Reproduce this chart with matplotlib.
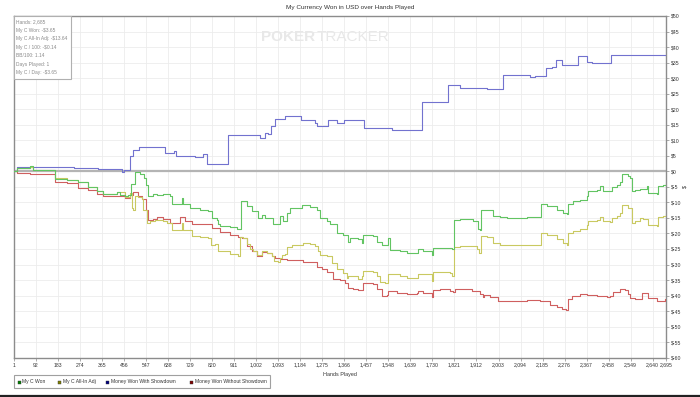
import matplotlib
matplotlib.use("Agg")
import matplotlib.pyplot as plt
from matplotlib.patches import Rectangle
from matplotlib.lines import Line2D

plt.rcParams['font.family'] = ['Liberation Sans', 'DejaVu Sans']

title = "My Currency Won in USD over Hands Played"
xlabel = "Hands Played"
series_names = ["My C Won", "My C All-In Adj", "Money Won With Showdown", "Money Won Without Showdown"]
stats_lines = ["Hands: 2,685", "My C Won: -$3.65", "My C All-In Adj: -$13.64", "My C / 100: -$0.14",
               "BB/100: 1.14", "Days Played: 1", "My C / Day: -$3.65"]

x_ticks = list(range(1, 2641, 91)) + [2695]
y_ticks = list(range(-60, 51, 5))

showdown_hands = [1, 13, 120, 250, 350, 447, 455, 480, 493, 518, 625, 662, 670, 749, 782, 798, 885, 1018,
                  1038, 1050, 1063, 1079, 1121, 1187, 1245, 1253, 1299, 1336, 1365, 1447, 1563, 1687, 1794,
                  1844, 1955, 2022, 2133, 2154, 2199, 2224, 2241, 2265, 2331, 2369, 2389, 2468, 2695]
showdown_vals = [0, 1.4, 1.3, 1.0, 0.8, -0.3, 0.3, 4.8, 7.0, 7.8, 5.9, 6.4, 4.8, 4.5, 5.6, 2.4, 11.6, 10.7,
                 12.3, 12.0, 14.7, 16.8, 17.7, 16.6, 15.6, 14.7, 16.6, 15.6, 16.4, 13.9, 13.3, 22.2, 27.7,
                 26.9, 26.6, 31.1, 30.4, 30.8, 33.2, 33.6, 35.7, 34.3, 37.0, 35.2, 34.8, 37.4, 37.4]

won_hands = [1, 13, 67, 80, 170, 220, 265, 307, 344, 369, 427, 439, 460, 472, 484, 501, 522, 538, 546, 555,
             575, 592, 617, 646, 654, 695, 699, 728, 770, 803, 819, 840, 844, 852, 893, 922, 939, 947, 964,
             984, 1009, 1026, 1038, 1071, 1092, 1100, 1112, 1129, 1141, 1191, 1224, 1253, 1265, 1294, 1307,
             1336, 1360, 1381, 1389, 1422, 1439, 1443, 1484, 1501, 1521, 1542, 1546, 1555, 1596, 1625, 1670,
             1691, 1728, 1732, 1802, 1811, 1819, 1844, 1873, 1897, 1918, 1926, 1930, 1955, 1980, 2009, 2038,
             2121, 2174, 2178, 2203, 2245, 2269, 2286, 2290, 2311, 2340, 2368, 2372, 2410, 2422, 2435, 2463,
             2472, 2492, 2505, 2513, 2538, 2546, 2554, 2567, 2587, 2616, 2620, 2658, 2662, 2682, 2695]
won_vals = [0, 1.1, 1.7, 0.5, -2.5, -2.8, -3.5, -5.0, -6.4, -7.2, -6.8, -7.5, -8.0, -7.5, -4.0, -0.3, -1.0,
            -2.0, -4.3, -8.0, -7.2, -7.6, -7.2, -8.0, -10.4, -8.6, -10.4, -11.8, -12.3, -12.8, -15.0, -15.6,
            -17.1, -17.5, -17.9, -18.5, -9.4, -9.6, -11.3, -12.9, -15.0, -14.0, -15.0, -17.1, -16.9, -14.5,
            -16.0, -13.3, -11.8, -11.0, -11.4, -12.5, -15.0, -16.0, -17.1, -19.8, -20.6, -22.8, -21.5, -21.8,
            -23.0, -20.4, -20.7, -22.8, -23.8, -23.6, -21.5, -25.2, -25.7, -26.3, -25.0, -25.5, -26.9, -24.6,
            -24.8, -25.0, -15.7, -15.5, -15.3, -16.1, -18.6, -18.9, -12.3, -12.5, -14.3, -14.7, -15.0, -14.7,
            -14.7, -10.4, -11.3, -12.3, -13.4, -13.6, -10.4, -9.6, -9.3, -8.0, -6.4, -5.9, -4.6, -6.2, -6.4,
            -5.0, -4.5, -3.4, -0.8, -1.5, -2.0, -6.4, -5.9, -5.7, -4.7, -6.9, -7.2, -4.6, -4.3, -4.0]

adj_hands = [1, 13, 67, 80, 170, 220, 265, 307, 344, 369, 427, 460, 480, 489, 493, 501, 513, 530, 534, 551,
             563, 584, 617, 633, 654, 695, 699, 736, 770, 803, 815, 832, 844, 893, 927, 935, 947, 964, 976,
             988, 1005, 1026, 1046, 1067, 1075, 1092, 1100, 1108, 1121, 1129, 1150, 1195, 1224, 1245, 1257,
             1265, 1294, 1315, 1336, 1360, 1377, 1381, 1410, 1422, 1439, 1443, 1484, 1501, 1513, 1534, 1546,
             1596, 1625, 1666, 1670, 1707, 1728, 1732, 1802, 1811, 1819, 1844, 1885, 1914, 1922, 1930, 1955,
             1980, 2009, 2038, 2121, 2174, 2178, 2203, 2245, 2269, 2286, 2290, 2311, 2340, 2368, 2372, 2410,
             2422, 2435, 2463, 2472, 2492, 2505, 2513, 2538, 2554, 2567, 2587, 2600, 2620, 2658, 2662, 2682,
             2695]
adj_vals = [0, 1.1, 1.5, 0.5, -2.3, -2.8, -3.5, -5.0, -6.4, -7.2, -6.8, -8.3, -7.0, -11.8, -12.3, -7.9,
            -8.4, -9.0, -12.3, -16.6, -16.1, -15.6, -16.0, -16.6, -19.0, -16.6, -18.8, -20.7, -21.1, -21.6,
            -23.6, -23.3, -25.7, -26.5, -27.2, -21.1, -21.4, -23.5, -25.0, -25.8, -26.9, -25.8, -26.4, -27.4,
            -28.9, -29.2, -27.8, -27.0, -26.5, -24.4, -23.6, -23.1, -23.3, -24.1, -25.7, -26.9, -27.2, -29.5,
            -31.6, -32.7, -34.3, -33.8, -33.8, -34.8, -33.8, -32.2, -32.5, -33.8, -35.6, -35.9, -33.0, -33.6,
            -34.5, -34.5, -32.9, -33.2, -35.3, -32.5, -32.8, -33.6, -24.3, -24.1, -24.1, -25.0, -26.3, -20.9,
            -21.1, -23.0, -23.6, -23.8, -23.6, -23.6, -20.0, -20.6, -21.9, -23.1, -23.6, -19.8, -19.3, -18.7,
            -17.3, -16.1, -15.6, -14.6, -16.0, -16.3, -14.9, -14.4, -13.4, -11.0, -11.8, -16.6, -16.1, -15.1,
            -15.5, -17.3, -17.6, -14.7, -14.3, -13.9]

noshow_hands = [1, 13, 67, 170, 220, 265, 307, 344, 369, 460, 480, 493, 513, 530, 546, 555, 575, 592, 617,
                646, 687, 708, 736, 770, 803, 819, 852, 893, 927, 943, 964, 984, 1005, 1026, 1046, 1067, 1079,
                1100, 1129, 1154, 1195, 1224, 1253, 1274, 1294, 1319, 1348, 1369, 1381, 1402, 1422, 1439, 1443,
                1484, 1501, 1521, 1542, 1546, 1583, 1625, 1666, 1670, 1691, 1728, 1732, 1761, 1802, 1815, 1823,
                1873, 1893, 1926, 1938, 1942, 1968, 2001, 2079, 2121, 2174, 2216, 2245, 2265, 2282, 2290, 2306,
                2340, 2368, 2410, 2451, 2463, 2476, 2505, 2525, 2538, 2546, 2567, 2596, 2616, 2620, 2658, 2682,
                2691, 2695]
noshow_vals = [0, -0.5, -0.8, -3.5, -3.9, -5.3, -6.1, -7.3, -8.0, -8.5, -7.5, -6.7, -8.0, -9.0, -12.3,
               -15.7, -15.3, -14.7, -15.5, -16.7, -14.7, -16.0, -17.0, -16.8, -17.1, -18.2, -19.5, -20.4,
               -21.1, -21.4, -24.0, -25.6, -27.2, -26.0, -26.3, -27.4, -28.0, -28.2, -28.6, -28.4, -29.1,
               -29.3, -30.7, -31.5, -32.4, -34.6, -35.0, -35.9, -37.5, -37.8, -38.3, -38.1, -36.1, -36.4,
               -37.9, -40.0, -39.7, -38.6, -39.1, -39.6, -39.1, -38.6, -39.3, -40.4, -38.2, -38.0, -38.5,
               -38.8, -38.0, -37.9, -38.6, -39.6, -40.5, -39.8, -40.4, -41.8, -41.9, -41.3, -41.8, -42.9,
               -43.6, -44.3, -44.5, -41.0, -40.0, -39.6, -39.9, -40.2, -40.4, -40.1, -38.9, -38.0, -38.2,
               -39.6, -40.8, -41.1, -39.1, -39.1, -40.8, -41.8, -41.8, -41.2, -41.2]

line_colors = ["#62c462", "#c9c961", "#7272cf", "#cf5f5f"]
legend_colors = ["#008000", "#808000", "#000080", "#800000"]

W, H = 700, 397
fig = plt.figure(figsize=(7.0, 3.97), dpi=100)
fig.patch.set_facecolor("white")


def fx(px):
    return px / W


def fy(py):
    return 1 - py / H


ax = fig.add_axes([fx(14), fy(357.7), fx(666) - fx(14), fy(16) - fy(357.7)])
ax.set_xlim(1, 2695)
ax.set_ylim(-60, 50)

ax.set_xticks(x_ticks)
ax.set_xticklabels([f"{t:,}" for t in x_ticks])
ax.set_yticks(y_ticks)
ax.set_yticklabels([f"${t}" for t in y_ticks])
ax.yaxis.tick_right()
ax.tick_params(axis="both", labelsize=3.7, colors="#333333", length=2, width=0.5, pad=1.5)
ax.tick_params(axis="both", color="#888888")
ax.grid(True, color="#ececec", lw=0.6)
ax.set_axisbelow(True)
for sp in ax.spines.values():
    sp.set_color("#8c8c8c")
    sp.set_linewidth(1.0)

ax.axhline(0, color="#b4b4b4", lw=1.6, zorder=1)

ax.step(noshow_hands, noshow_vals, where="post", color=line_colors[3], lw=0.8, zorder=3)
ax.step(showdown_hands, showdown_vals, where="post", color=line_colors[2], lw=0.8, zorder=3)
ax.step(adj_hands, adj_vals, where="post", color=line_colors[1], lw=0.8, zorder=3)
ax.step(won_hands, won_vals, where="post", color=line_colors[0], lw=0.8, zorder=4)

ax.set_xlabel(xlabel, fontsize=3.9, color="#333333", labelpad=3)

fig.text(0.5, fy(8), title, ha="center", va="center", fontsize=4.6, color="#333333")
fig.text(fx(685), fy(187), "$", rotation=90, ha="center", va="center", fontsize=4, color="#333333")

# watermark
fig.text(fx(315), fy(37), "POKER", ha="right", va="center", fontsize=11, fontweight="bold",
         color="#e8e8e8", zorder=0)
fig.text(fx(316.5), fy(37), "TRACKER", ha="left", va="center", fontsize=11,
         color="#e8e8e8", zorder=0)

# stats box
box = Rectangle((fx(14), fy(79)), fx(70.5) - fx(14), fy(16) - fy(79), transform=fig.transFigure,
                facecolor="white", edgecolor="#b0b0b0", lw=0.8, zorder=10)
fig.add_artist(box)
for i, s in enumerate(stats_lines):
    fig.text(fx(16), fy(21.7 + 8.5 * i), s, ha="left", va="center", fontsize=3.5, color="#8a8a8a", zorder=11)

# legend box
lbox = Rectangle((fx(13.5), fy(388.3)), fx(270) - fx(13.5), fy(375) - fy(388.3), transform=fig.transFigure,
                 facecolor="white", edgecolor="#a0a0a0", lw=0.8, zorder=10)
fig.add_artist(lbox)
leg_x = [17.5, 57.8, 105.8, 190]
for i, name in enumerate(series_names):
    sq = Rectangle((fx(leg_x[i]), fy(384)), fx(3.2), fy(380.5) - fy(384), transform=fig.transFigure,
                   facecolor=legend_colors[i], edgecolor="#333333", lw=0.3, zorder=11)
    fig.add_artist(sq)
    fig.text(fx(leg_x[i] + 5), fy(382), name, ha="left", va="center", fontsize=3.6, color="#333333", zorder=11)

fig.add_artist(Line2D([0, 1], [fy(396), fy(396)], transform=fig.transFigure, color="#222222", lw=1.6))

fig.savefig("out.png", dpi=100, facecolor="white")
